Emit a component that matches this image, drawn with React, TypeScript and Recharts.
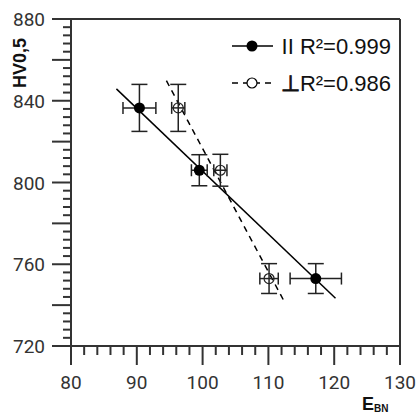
import React from "react";
import {
  ScatterChart,
  Scatter,
  XAxis,
  YAxis,
  ErrorBar,
  ReferenceLine,
  Legend,
  Label,
} from "recharts";

// parallel direction (filled markers)
const parE = [90.4, 99.5, 117.2];
const parHV = [836.5, 806, 753];
const parEErr = [2.5, 1.2, 3.9];
const parHVErr = [11.5, 7.6, 7.3];

// perpendicular direction (open markers)
const perpE = [96.3, 102.7, 110.1];
const perpHV = [836.5, 806, 753];
const perpEErr = [1.0, 1.0, 1.4];
const perpHVErr = [11.5, 7.8, 7.3];

// linear fits
const parFitE = [86.9, 120.2];
const parFitHV = [845.8, 743.4];
const perpFitE = [94.5, 112.6];
const perpFitHV = [849.8, 740.6];

const legendSymbols = ["II", "\u22a5"];
const legendLabels = [" R\u00b2=0.999", "R\u00b2=0.986"];

const xLabelTicks = [80, 90, 100, 110, 120, 130];
const yLabelTicks = [720, 760, 800, 840, 880];
const yLongTicks = [740, 780, 820, 860];

const xTicks: number[] = [];
for (let v = 80; v <= 130; v += 2) xTicks.push(v);
const yTicks: number[] = [];
for (let v = 720; v <= 880; v += 4) yTicks.push(v);

const parData = parE.map((e, i) => ({ e, hv: parHV[i], ex: parEErr[i], ey: parHVErr[i] }));
const perpData = perpE.map((e, i) => ({ e, hv: perpHV[i], ex: perpEErr[i], ey: perpHVErr[i] }));

const ink = "#222";
const axisColor = "#333";
const tickFont = "Roboto, sans-serif";
const labelFont = "'Liberation Sans', Arial, sans-serif";

const XTick = (props: any) => {
  const { x, y, payload } = props;
  const major = xLabelTicks.includes(payload.value);
  return (
    <g>
      <line x1={x} x2={x} y1={y} y2={y + (major ? 19 : 9)} stroke={axisColor} strokeWidth={2} />
      {major && (
        <text x={x} y={y + 43} textAnchor="middle" fontFamily={tickFont} fontSize={19} fill={axisColor}>
          {payload.value}
        </text>
      )}
    </g>
  );
};

const YTick = (props: any) => {
  const { x, y, payload } = props;
  const labelled = yLabelTicks.includes(payload.value);
  const long = labelled || yLongTicks.includes(payload.value);
  return (
    <g>
      <line x1={x - (long ? 19 : 8)} x2={x} y1={y} y2={y} stroke={axisColor} strokeWidth={2} />
      {labelled && (
        <text x={x - 26} y={y + 7} textAnchor="end" fontFamily={tickFont} fontSize={19} fill={axisColor}>
          {payload.value}
        </text>
      )}
    </g>
  );
};

const filledDot = (p: any) => <circle cx={p.cx} cy={p.cy} r={5.5} fill="#000" />;
const openDot = (p: any) => <circle cx={p.cx} cy={p.cy} r={5} fill="none" stroke={ink} strokeWidth={1.2} />;

const renderLegend = () => (
  <svg width={175} height={80}>
    <g>
      <line x1={7} x2={48} y1={21} y2={21} stroke="#000" strokeWidth={1.5} />
      <circle cx={27} cy={21} r={5.5} fill="#000" />
      <text x={166} y={29} textAnchor="end" fontFamily={labelFont} fontSize={22} fill="#111">
        {legendSymbols[0]}
        {legendLabels[0]}
      </text>
    </g>
    <g>
      <line x1={7} x2={48} y1={58} y2={58} stroke="#000" strokeWidth={1.3} strokeDasharray="6 5" />
      <circle cx={27} cy={58} r={5} fill="#fff" stroke="#000" strokeWidth={1.2} />
      <text x={166} y={66} textAnchor="end" fontFamily={labelFont} fontSize={22} fill="#111">
        <tspan stroke="#111" strokeWidth={0.9}>{legendSymbols[1]}</tspan>
        {legendLabels[1]}
      </text>
    </g>
  </svg>
);

export default function App() {
  return (
    <div style={{ position: "absolute", left: 0, top: 0, background: "#fff" }}>
      <ScatterChart width={419} height={413} margin={{ top: 19, right: 19, bottom: 27, left: 0 }}>
        <XAxis
          type="number"
          dataKey="e"
          domain={[80, 130]}
          ticks={xTicks}
          interval={0}
          tickSize={0}
          tickMargin={0}
          tick={<XTick />}
          height={40}
          stroke={axisColor}
          strokeWidth={2}
          allowDataOverflow
        >
          <Label
            content={(p: any) => {
              const vb = p.viewBox;
              return (
                <text x={vb.x + 291} y={vb.y + 64} fontFamily={labelFont} fontWeight="bold" fontSize={18} fill="#111">
                  E
                  <tspan fontSize={10} dy={2}>BN</tspan>
                </text>
              );
            }}
          />
        </XAxis>
        <YAxis
          type="number"
          dataKey="hv"
          domain={[720, 880]}
          ticks={yTicks}
          interval={0}
          tickSize={0}
          tickMargin={0}
          tick={<YTick />}
          width={71}
          stroke={axisColor}
          strokeWidth={2}
          allowDataOverflow
        >
          <Label
            content={(p: any) => {
              const vb = p.viewBox;
              const cx = vb.x + 26;
              const cy = vb.y + 44;
              return (
                <text
                  x={cx}
                  y={cy}
                  transform={`rotate(-90 ${cx} ${cy})`}
                  textAnchor="middle"
                  fontFamily={labelFont}
                  fontWeight="bold"
                  fontSize={18}
                  fill="#111"
                >
                  HV0,5
                </text>
              );
            }}
          />
        </YAxis>
        <ReferenceLine y={880} stroke={axisColor} strokeWidth={2} />
        <ReferenceLine x={130} stroke={axisColor} strokeWidth={2} />
        <ReferenceLine
          segment={[
            { x: parFitE[0], y: parFitHV[0] },
            { x: parFitE[1], y: parFitHV[1] },
          ]}
          stroke="#000"
          strokeWidth={1.5}
        />
        <ReferenceLine
          segment={[
            { x: perpFitE[0], y: perpFitHV[0] },
            { x: perpFitE[1], y: perpFitHV[1] },
          ]}
          stroke="#000"
          strokeWidth={1.5}
          strokeDasharray="6 5"
        />
        <Scatter name="par" data={parData} shape={filledDot} isAnimationActive={false}>
          <ErrorBar dataKey="ex" direction="x" width={6} stroke={ink} strokeWidth={1.5} isAnimationActive={false} />
          <ErrorBar dataKey="ey" direction="y" width={8} stroke={ink} strokeWidth={1.5} isAnimationActive={false} />
        </Scatter>
        <Scatter name="perp" data={perpData} shape={openDot} isAnimationActive={false}>
          <ErrorBar dataKey="ex" direction="x" width={6} stroke={ink} strokeWidth={1.5} isAnimationActive={false} />
          <ErrorBar dataKey="ey" direction="y" width={8} stroke={ink} strokeWidth={1.5} isAnimationActive={false} />
        </Scatter>
        <Legend
          content={renderLegend}
          layout="horizontal"
          verticalAlign="middle"
          align="center"
          width={175}
          height={80}
          wrapperStyle={{ position: "absolute", left: 225, top: 25, width: 175, height: 80 }}
        />
      </ScatterChart>
    </div>
  );
}
